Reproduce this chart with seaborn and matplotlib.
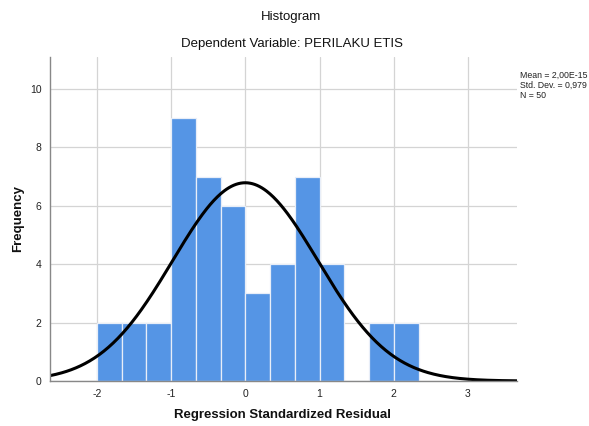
import numpy as np
import matplotlib
matplotlib.use('Agg')
import matplotlib.pyplot as plt
import seaborn as sns

# Data (bin width 1/3)
bin_edges = [-2.0, -5/3, -4/3, -1.0, -2/3, -1/3, 0.0, 1/3, 2/3, 1.0, 4/3, 5/3, 2.0, 7/3]
counts = [2, 2, 2, 9, 7, 6, 3, 4, 7, 4, 0, 2, 2]
x_ticks = [-2, -1, 0, 1, 2, 3]
y_ticks = [0, 2, 4, 6, 8, 10]
mean_val = 2.00e-15
std_val = 0.979
n_obs = 50

bin_centers = [(a + b) / 2 for a, b in zip(bin_edges[:-1], bin_edges[1:])]

sns.set_style('white')
plt.rcParams['font.family'] = ['Liberation Sans', 'DejaVu Sans']

fig = plt.figure(figsize=(5.89, 4.26), dpi=100)
ax = fig.add_axes([50/589, 1 - 381/426, 467/589, 324/426])

ax.set_axisbelow(True)
ax.grid(True, color='#d4d4d4', linewidth=0.9)

sns.histplot(x=bin_centers, weights=counts, bins=bin_edges, color='#5595e5',
             alpha=1, edgecolor='#e8eef8', linewidth=0.9, ax=ax)

# fitted normal curve
xs = np.linspace(-2.63, 3.66, 400)
bw = bin_edges[1] - bin_edges[0]
ys = n_obs * bw * np.exp(-0.5 * ((xs - mean_val) / std_val) ** 2) / (std_val * np.sqrt(2 * np.pi))
sns.lineplot(x=xs, y=ys, color='black', linewidth=2.2, ax=ax)

ax.set_xlim(-2.63, 3.66)
ax.set_ylim(0, 11.1)
ax.set_xticks(x_ticks)
ax.set_xticklabels([str(t) for t in x_ticks])
ax.set_yticks(y_ticks)
ax.set_yticklabels([str(t) for t in y_ticks])
ax.tick_params(axis='both', length=0, labelsize=7.5, colors='#222222', pad=6)

for s in ['top', 'right']:
    ax.spines[s].set_visible(False)
for s in ['left', 'bottom']:
    ax.spines[s].set_color('#888888')
    ax.spines[s].set_linewidth(1.0)

ax.set_xlabel('')
ax.set_ylabel('')
fig.text(283/589, 1 - 415/426, 'Regression Standardized Residual', ha='center', va='center',
         fontsize=9.5, fontweight='bold', color='#111111')
fig.text(18/589, 1 - 219/426, 'Frequency', ha='center', va='center', rotation=90,
         fontsize=9.5, fontweight='bold', color='#111111')

fig.text(291/589, 1 - 17/426, 'Histogram', ha='center', va='center', fontsize=9.5, color='#111111')
fig.text(292/589, 1 - 44/426, 'Dependent Variable: PERILAKU ETIS', ha='center', va='center',
         fontsize=9.5, color='#111111')

fig.text(520/589, 1 - 85/426,
         'Mean = 2,00E-15\nStd. Dev. = 0,979\nN = %d' % n_obs,
         ha='left', va='center', fontsize=6.3, linespacing=1.15, color='#222222')

fig.savefig('out.png', dpi=100)
